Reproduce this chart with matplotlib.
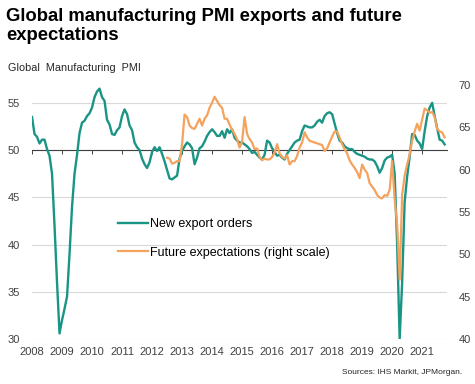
import numpy as np
import matplotlib
matplotlib.use("Agg")
import matplotlib.pyplot as plt

plt.rcParams['font.family'] = ['Liberation Sans', 'DejaVu Sans']

# monthly, Jan 2008 - Oct 2021
export_orders = [
    53.5, 51.7, 51.4, 50.7, 51.1, 51.1, 50.1, 49.4, 47.5, 42.0, 36.0, 30.6,
    32.0, 33.2, 34.5, 39.0, 44.0, 47.5, 49.5, 51.8, 52.9, 53.1, 53.6, 53.9,
    54.5, 55.6, 56.2, 56.5, 55.6, 55.2, 53.2, 52.7, 51.7, 51.6, 52.1, 52.4,
    53.6, 54.3, 53.8, 52.6, 52.1, 50.8, 50.3, 50.0, 49.1, 48.5, 48.1, 48.7,
    49.8, 50.3, 49.9, 50.3, 49.6, 48.8, 47.9, 47.0, 46.9, 47.1, 47.3, 49.1,
    49.9, 50.4, 50.8, 50.6, 50.2, 48.5, 49.2, 50.2, 50.4, 50.9, 51.5, 51.9,
    52.2, 51.9, 51.5, 51.5, 52.0, 51.3, 52.2, 51.8, 52.2, 51.3, 51.0, 50.8,
    50.8, 50.6, 50.4, 50.1, 49.7, 49.8, 49.5, 49.2, 49.0, 49.5, 51.0, 50.8,
    50.2, 49.8, 49.4, 49.5, 49.2, 49.0, 49.6, 50.0, 50.4, 50.8, 51.0, 51.1,
    52.0, 52.6, 52.5, 52.4, 52.4, 52.6, 53.0, 53.2, 52.9, 53.6, 53.9, 54.0,
    53.8, 52.8, 51.8, 51.0, 50.8, 50.4, 50.2, 50.1, 50.1, 49.8, 49.6, 49.5,
    49.4, 49.3, 49.1, 49.0, 49.0, 48.8, 48.3, 47.6, 48.1, 48.9, 49.2, 49.3,
    49.5, 47.5, 40.0, 30.0, 36.0, 44.5, 47.2, 49.3, 51.7, 51.6, 51.0, 50.7,
    50.1, 52.0, 53.6, 54.5, 55.0, 53.6, 52.3, 51.1, 51.0, 50.6,
]

# monthly, Jul 2012 - Oct 2021 (right scale)
future_start = 2012 + 6 / 12
future_expectations = [
    61.4, 61.3, 60.7, 60.8, 61.0, 61.0,
    63.0, 66.5, 66.2, 65.2, 64.9, 64.8, 65.4, 66.0, 65.2, 66.0, 66.4, 67.3,
    67.9, 68.6, 68.1, 67.6, 67.3, 66.0, 66.0, 65.3, 64.7, 64.2, 63.6, 62.6,
    63.3, 66.2, 64.2, 63.6, 63.2, 62.4, 62.5, 61.5, 61.1, 61.3, 61.2, 61.2,
    61.5, 62.0, 63.0, 61.9, 61.5, 61.3, 61.7, 60.6, 61.0, 61.0, 61.6, 62.6,
    63.2, 64.4, 63.8, 63.4, 63.3, 63.2, 63.1, 63.0, 62.9, 62.2, 62.5, 63.2,
    63.9, 64.5, 64.5, 63.8, 63.0, 62.4, 61.9, 61.1, 60.6, 60.2, 59.7, 59.0,
    60.6, 60.0, 59.6, 58.4, 58.0, 57.6, 57.0, 56.7, 56.6, 57.0, 56.9, 57.6,
    61.0, 56.5, 53.5, 47.0, 57.0, 59.3, 60.6, 61.8, 63.4, 64.5, 65.4, 64.6,
    65.9, 67.2, 67.0, 66.7, 66.8, 66.2, 64.8, 64.5, 64.4, 63.8,
]

years = list(range(2008, 2022))
left_ticks = [30, 35, 40, 45, 50, 55]
right_ticks = [40, 45, 50, 55, 60, 65, 70]

teal = '#1a9485'
orange = '#f5a25d'
grey_txt = '#404040'

x_exp = 2008 + np.arange(len(export_orders)) / 12
x_fut = future_start + np.arange(len(future_expectations)) / 12

fig = plt.figure(figsize=(4.75, 3.84), dpi=100)
ax = fig.add_axes([0.0674, 0.117, 0.874, 0.662])
ax2 = ax.twinx()

ax.plot(x_exp, export_orders, color=teal, lw=1.7, label='New export orders', zorder=3)
ax2.plot(x_fut, future_expectations, color=orange, lw=1.6,
         label='Future expectations (right scale)', zorder=3)

ax.set_xlim(2008, 2008 + 166 / 12)
ax.set_ylim(30, 56.9)
ax2.set_ylim(40, 70)

ax.set_yticks(left_ticks)
ax2.set_yticks(right_ticks)
ax.yaxis.grid(True, color='#d9d9d9', lw=0.8)
ax.set_axisbelow(True)

for a in (ax, ax2):
    for s in ['top', 'left', 'right']:
        a.spines[s].set_visible(False)
ax2.spines['bottom'].set_visible(False)

# black 50 line with year ticks
ax.spines['bottom'].set_position(('data', 50))
ax.spines['bottom'].set_color(grey_txt)
ax.spines['bottom'].set_linewidth(0.8)
ax.set_xticks(years)
ax.tick_params(axis='x', direction='out', length=3, width=0.7, color=grey_txt,
               labelbottom=False)

sec = ax.secondary_xaxis('bottom')
sec.set_xticks(years)
sec.tick_params(length=0, pad=6, labelsize=8, labelcolor=grey_txt)
sec.spines['bottom'].set_visible(False)

ax.tick_params(axis='y', length=0, pad=9, labelsize=8, labelcolor=grey_txt)
ax2.tick_params(axis='y', length=0, pad=8, labelsize=8, labelcolor=grey_txt)

h1, l1 = ax.get_legend_handles_labels()
h2, l2 = ax2.get_legend_handles_labels()
ax2.legend(h1 + h2, l1 + l2, loc='upper left', bbox_to_anchor=(0.207, 0.475),
           frameon=False, fontsize=9, handlelength=2.4, handletextpad=0.2,
           labelspacing=1.3, borderpad=0, borderaxespad=0)

fig.text(0.013, 0.978, 'Global manufacturing PMI exports and future\nexpectations',
         fontsize=13.3, fontweight='bold', va='top', ha='left', linespacing=1.1)
fig.text(0.017, 0.823, 'Global  Manufacturing  PMI', fontsize=7.8,
         color='#262626', va='center', ha='left')
fig.text(0.973, 0.03, 'Sources: IHS Markit, JPMorgan.', fontsize=6,
         color='#262626', ha='right', va='center')

fig.savefig('out.png', dpi=100)
